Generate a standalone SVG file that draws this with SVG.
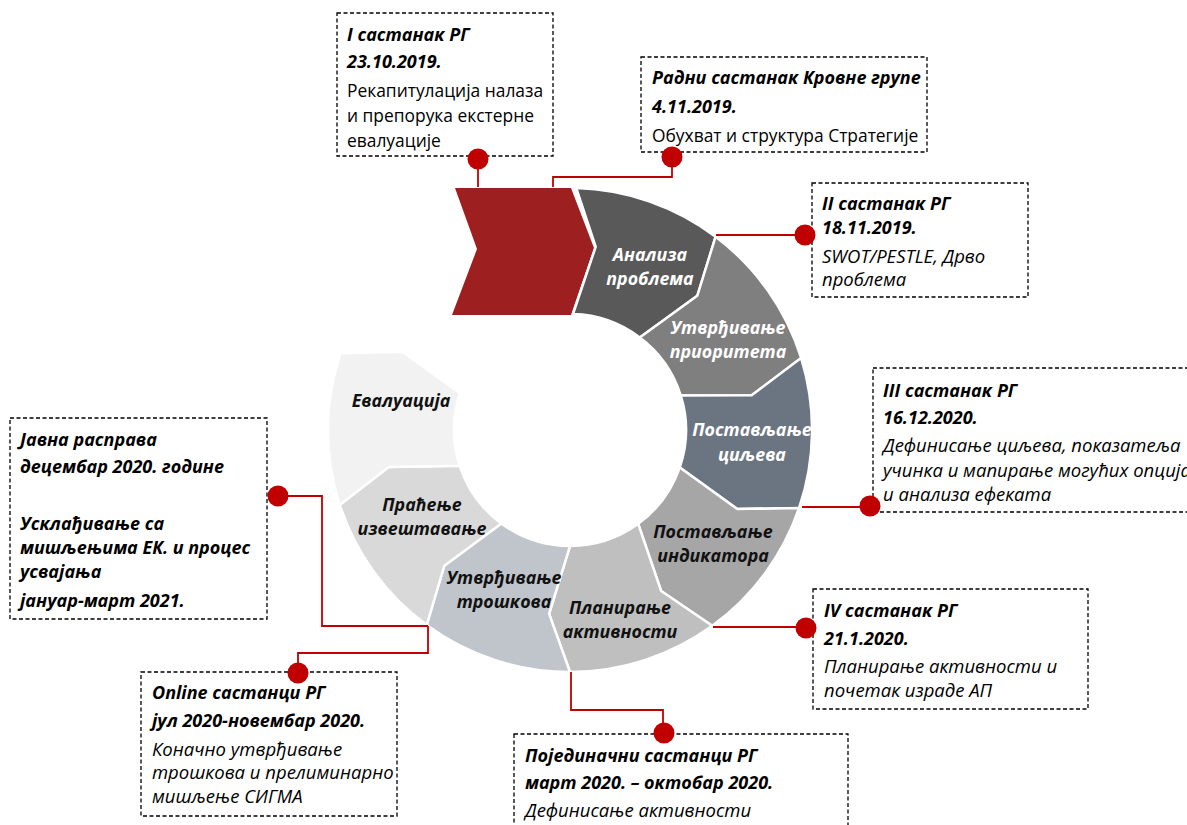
<svg xmlns="http://www.w3.org/2000/svg" width="1187" height="825" viewBox="0 0 1187 825">
<style>
.seg{stroke:#ffffff;stroke-width:2.5;stroke-linejoin:miter}
.lbl{font-family:"Open Sans","Noto Sans",sans-serif;font-weight:bold;font-style:italic;font-size:17.8px;text-anchor:middle}
.w{fill:#ffffff}
.k{fill:#111111}
.box{fill:none;stroke:#000000;stroke-width:1.3;stroke-dasharray:4 2.5}
.b{font-family:"Open Sans","Noto Sans",sans-serif;font-weight:bold;font-style:italic;font-size:18px;fill:#000000}
.r{font-family:"Open Sans","Noto Sans",sans-serif;font-size:17.4px;fill:#000000}
.i{font-family:"Open Sans","Noto Sans",sans-serif;font-style:italic;font-size:18.5px;fill:#000000}
.con{fill:none;stroke:#c00000;stroke-width:1.8}
.dot{fill:#c00000}
</style>
<rect width="1187" height="825" fill="#ffffff"/>

<g id="start-chevron">
<polygon points="455,188 571,188 594,248 571,315 452,315 477,249" fill="#9e1f20"/>
</g>

<g id="ring">
<g id="seg-analiza">
<path class="seg" fill="#595959" d="M576.3,188.1 A242,242 0 0 1 715.6,236.7 L697.3,295.8 L639.8,337.4 A116,116 0 0 0 573.0,314.0 L595.7,246.8 Z"/>
<text class="lbl w" x="650" y="261">Анализа</text>
<text class="lbl w" x="650" y="285">проблема</text>
</g>
<g id="seg-prioriteti">
<path class="seg" fill="#7f7f7f" d="M715.6,236.7 A242,242 0 0 1 801.1,358.0 L751.7,395.3 L680.8,395.5 A116,116 0 0 0 639.8,337.4 L697.3,295.8 Z"/>
<text class="lbl w" x="728" y="334">Утврђивање</text>
<text class="lbl w" x="728" y="358">приоритета</text>
</g>
<g id="seg-ciljevi">
<path class="seg" fill="#6b7581" d="M801.1,358.0 A242,242 0 0 1 799.1,508.0 L737.3,509.1 L679.8,467.4 A116,116 0 0 0 680.8,395.5 L751.7,395.3 Z"/>
<text class="lbl w" x="752" y="436">Постављање</text>
<text class="lbl w" x="752" y="461">циљева</text>
</g>
<g id="seg-indikatori">
<path class="seg" fill="#a6a6a6" d="M799.1,508.0 A242,242 0 0 1 712.2,625.8 L661.1,591.0 L638.2,523.8 A116,116 0 0 0 679.8,467.4 L737.3,509.1 Z"/>
<text class="lbl k" x="713" y="538">Постављање</text>
<text class="lbl k" x="713" y="562">индикатора</text>
</g>
<g id="seg-planiranje">
<path class="seg" fill="#bfbfbf" d="M712.2,625.8 A242,242 0 0 1 570,672 L549.1,613.8 L570,546 A116,116 0 0 0 638.2,523.8 L661.1,591.0 Z"/>
<text class="lbl k" x="620" y="614">Планирање</text>
<text class="lbl k" x="620" y="638">активности</text>
</g>
<g id="seg-troskovi">
<path class="seg" fill="#c0c5cb" d="M570,672 A242,242 0 0 1 426.7,625.0 L444.3,565.7 L501.3,523.5 A116,116 0 0 0 570,546 L549.1,613.8 Z"/>
<text class="lbl k" x="504" y="584">Утврђивање</text>
<text class="lbl k" x="504" y="608">трошкова</text>
</g>
<g id="seg-pracenje">
<path class="seg" fill="#d9d9d9" d="M426.7,625.0 A242,242 0 0 1 339.8,504.8 L388.7,466.9 L459.7,465.8 A116,116 0 0 0 501.3,523.5 L444.3,565.7 Z"/>
<text class="lbl k" x="422" y="511">Праћење</text>
<text class="lbl k" x="422" y="535">извештавање</text>
</g>
<g id="seg-evaluacija">
<path class="seg" fill="#f2f2f2" d="M339.8,504.8 A242,242 0 0 1 340.5,353.2 L402.3,351.8 L460.0,393.2 A116,116 0 0 0 459.7,465.8 L388.7,466.9 Z"/>
<text class="lbl k" x="401" y="407">Евалуација</text>
</g>
</g>

<g id="connectors">
<path class="con" d="M478,159 V187"/>
<path class="con" d="M672,157 V177 H553 V187"/>
<path class="con" d="M716,235 H805"/>
<path class="con" d="M802,507 H870"/>
<path class="con" d="M713,627 H806"/>
<path class="con" d="M571,672 V710 H663 V733"/>
<path class="con" d="M278,496 H322 V626 H428"/>
<path class="con" d="M428,626 V653 H298 V673"/>
</g>

<g id="box-1">
<rect class="box" x="337" y="13" width="216" height="143" fill="#ffffff"/>
<text class="b" x="347" y="41">I састанак  РГ</text>
<text class="b" x="347" y="68">23.10.2019.</text>
<text class="r" x="347" y="97">Рекапитулација налаза</text>
<text class="r" x="347" y="122">и препорука екстерне</text>
<text class="r" x="347" y="147">евалуације</text>
<circle class="dot" cx="478" cy="159" r="10.5"/>
</g>

<g id="box-2">
<rect class="box" x="641" y="57" width="286" height="95"/>
<text class="b" x="652" y="84">Радни састанак Кровне групе</text>
<text class="b" x="652" y="113">4.11.2019.</text>
<text class="r" x="652" y="142">Обухват и структура Стратегије</text>
<circle class="dot" cx="672" cy="157" r="10.5"/>
</g>

<g id="box-3">
<rect class="box" x="812" y="183" width="216" height="114"/>
<text class="b" x="822" y="210">II састанак РГ</text>
<text class="b" x="822" y="234">18.11.2019.</text>
<text class="i" x="822" y="263">SWOT/PESTLE, Дрво</text>
<text class="i" x="822" y="286">проблема</text>
<circle class="dot" cx="805" cy="235" r="10.5"/>
</g>

<g id="box-4">
<rect class="box" x="873" y="368" width="330" height="144"/>
<text class="b" x="883" y="397">III састанак РГ</text>
<text class="b" x="883" y="424">16.12.2020.</text>
<text class="i" x="883" y="452">Дефинисање циљева, показатеља</text>
<text class="i" x="883" y="477">учинка и мапирање могућих опција</text>
<text class="i" x="883" y="501">и анализа ефеката</text>
<circle class="dot" cx="870" cy="506" r="10.5"/>
</g>

<g id="box-5">
<rect class="box" x="813" y="589" width="275" height="120"/>
<text class="b" x="824" y="617">IV састанак РГ</text>
<text class="b" x="824" y="645">21.1.2020.</text>
<text class="i" x="824" y="673">Планирање активности и</text>
<text class="i" x="824" y="697">почетак израде АП</text>
<circle class="dot" cx="806" cy="628" r="10.5"/>
</g>

<g id="box-6">
<rect class="box" x="10" y="418" width="257" height="201"/>
<text class="b" x="20" y="446">Јавна расправа</text>
<text class="b" x="20" y="473">децембар 2020. године</text>
<text class="b" x="20" y="530">Усклађивање са</text>
<text class="b" x="20" y="554">мишљењима ЕК. и процес</text>
<text class="b" x="20" y="578">усвајања</text>
<text class="b" x="20" y="607">јануар-март 2021.</text>
<circle class="dot" cx="278" cy="496" r="10.5"/>
</g>

<g id="box-7">
<rect class="box" x="141" y="672" width="256" height="144"/>
<text class="b" x="152" y="699">Online састанци  РГ</text>
<text class="b" x="152" y="727">јул 2020-новембар 2020.</text>
<text class="i" x="152" y="756">Коначно утврђивање</text>
<text class="i" x="152" y="779">трошкова и прелиминарно</text>
<text class="i" x="152" y="803">мишљење СИГМА</text>
<circle class="dot" cx="298" cy="673" r="10.5"/>
</g>

<g id="box-8">
<rect class="box" x="514" y="734" width="334" height="110"/>
<text class="b" x="525" y="762">Појединачни састанци  РГ</text>
<text class="b" x="525" y="789">март 2020. – октобар 2020.</text>
<text class="i" x="525" y="817">Дефинисање активности</text>
<circle class="dot" cx="664" cy="733" r="10.5"/>
</g>
</svg>
